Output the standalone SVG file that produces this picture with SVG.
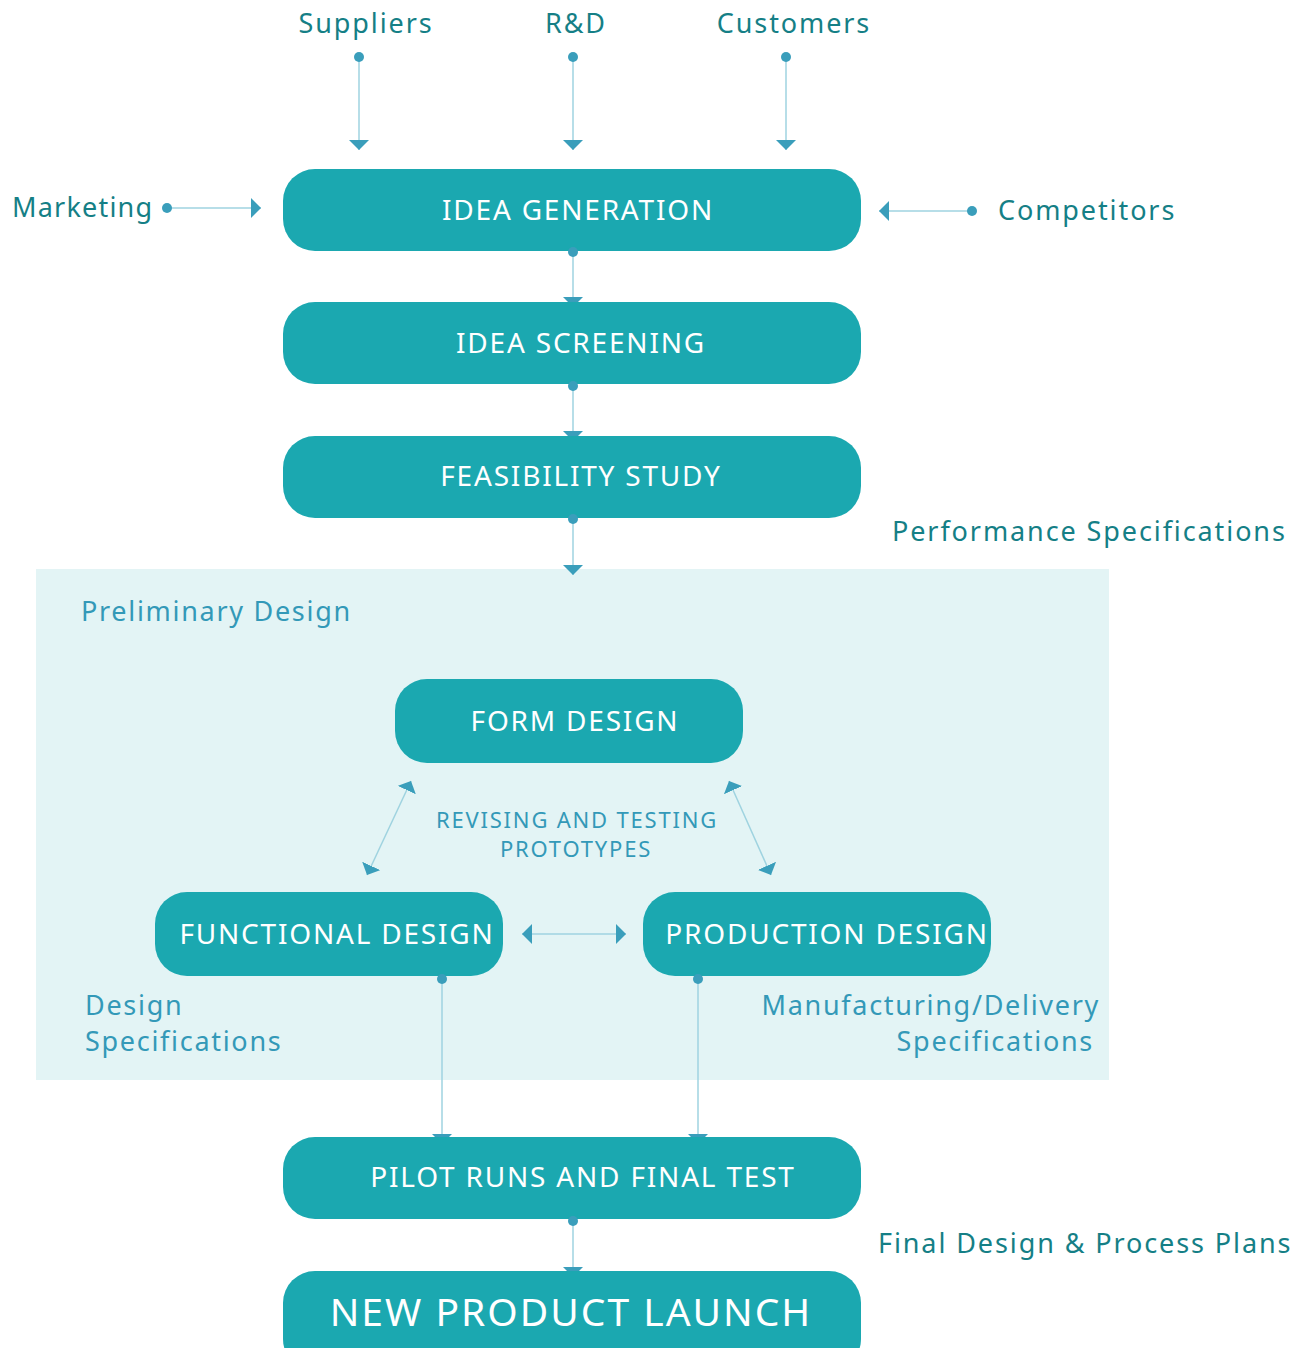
<svg xmlns="http://www.w3.org/2000/svg" width="1310" height="1348" viewBox="0 0 1310 1348">
<style>
.node{fill:#1ba8b0}
.nt{fill:#ffffff;font-family:"Noto Sans",sans-serif;font-size:28px;letter-spacing:1.8px;text-anchor:middle}
.lab{fill:#157f86;font-family:"Noto Sans",sans-serif;font-size:27px;letter-spacing:1.9px}
.lab2{fill:#3399b8;font-family:"Noto Sans",sans-serif;font-size:27px;letter-spacing:1.7px}
.rev{fill:#3399b8;font-family:"Noto Sans",sans-serif;font-size:22px;letter-spacing:1.8px;text-anchor:middle}
.ln{stroke:#9fd3e0;stroke-width:1.5;fill:none}
.dot{fill:#3a9ebb}
.ah{fill:#3a9ebb}
</style>
<defs>
<marker id="arr" viewBox="0 0 10 20" refX="10" refY="10" markerWidth="10" markerHeight="20" markerUnits="userSpaceOnUse" orient="auto-start-reverse">
<path d="M0,0 L10,10 L0,20 Z" class="ah"/>
</marker>
</defs>
<rect x="36" y="569" width="1073" height="511" fill="#e3f4f5"/>
<g id="labels">
<text class="lab" x="366" y="33" text-anchor="middle">Suppliers</text>
<text class="lab" x="576" y="33" text-anchor="middle">R&amp;D</text>
<text class="lab" x="794" y="33" text-anchor="middle">Customers</text>
<text class="lab" x="12" y="217" style="letter-spacing:1.2px">Marketing</text>
<text class="lab" x="998" y="220">Competitors</text>
<text class="lab" x="892" y="541">Performance Specifications</text>
<text class="lab2" x="81" y="621">Preliminary Design</text>
<text class="lab2" x="85" y="1015">Design</text>
<text class="lab2" x="85" y="1051">Specifications</text>
<text class="lab2" x="1100" y="1015" text-anchor="end">Manufacturing/Delivery</text>
<text class="lab2" x="1094" y="1051" text-anchor="end">Specifications</text>
<text class="lab" x="878" y="1253">Final Design &amp; Process Plans</text>
<text class="rev" x="577" y="828">REVISING AND TESTING</text>
<text class="rev" x="576" y="857">PROTOTYPES</text>
</g>
<g id="connectors">
<line class="ln" x1="359" y1="57" x2="359" y2="150" marker-end="url(#arr)"/>
<line class="ln" x1="573" y1="57" x2="573" y2="150" marker-end="url(#arr)"/>
<line class="ln" x1="786" y1="57" x2="786" y2="150" marker-end="url(#arr)"/>
<line class="ln" x1="167" y1="208" x2="261" y2="208" marker-end="url(#arr)"/>
<line class="ln" x1="972" y1="211" x2="879" y2="211" marker-end="url(#arr)"/>
<line class="ln" x1="573" y1="252" x2="573" y2="307" marker-end="url(#arr)"/>
<line class="ln" x1="573" y1="386" x2="573" y2="441" marker-end="url(#arr)"/>
<line class="ln" x1="573" y1="519" x2="573" y2="575" marker-end="url(#arr)"/>
<line class="ln" x1="411" y1="781" x2="367" y2="875" marker-start="url(#arr)" marker-end="url(#arr)"/>
<line class="ln" x1="729" y1="781" x2="771" y2="875" marker-start="url(#arr)" marker-end="url(#arr)"/>
<line class="ln" x1="522" y1="934" x2="626" y2="934" marker-start="url(#arr)" marker-end="url(#arr)"/>
<line class="ln" x1="442" y1="979" x2="442" y2="1144" marker-end="url(#arr)"/>
<line class="ln" x1="698" y1="979" x2="698" y2="1144" marker-end="url(#arr)"/>
<line class="ln" x1="573" y1="1221" x2="573" y2="1277" marker-end="url(#arr)"/>
<circle class="dot" cx="359" cy="57" r="5"/>
<circle class="dot" cx="573" cy="57" r="5"/>
<circle class="dot" cx="786" cy="57" r="5"/>
<circle class="dot" cx="167" cy="208" r="5"/>
<circle class="dot" cx="972" cy="211" r="5"/>
</g>
<g id="idea-generation"><rect class="node" x="283" y="169" width="578" height="82" rx="32"/><text class="nt" x="578" y="220">IDEA GENERATION</text></g>
<g id="idea-screening"><rect class="node" x="283" y="302" width="578" height="82" rx="32"/><text class="nt" x="581" y="353">IDEA SCREENING</text></g>
<g id="feasibility-study"><rect class="node" x="283" y="436" width="578" height="82" rx="32"/><text class="nt" x="581" y="486">FEASIBILITY STUDY</text></g>
<g id="form-design"><rect class="node" x="395" y="679" width="348" height="84" rx="32"/><text class="nt" x="575" y="731">FORM DESIGN</text></g>
<g id="functional-design"><rect class="node" x="155" y="892" width="348" height="84" rx="32"/><text class="nt" x="337" y="944">FUNCTIONAL DESIGN</text></g>
<g id="production-design"><rect class="node" x="643" y="892" width="348" height="84" rx="32"/><text class="nt" x="827" y="944">PRODUCTION DESIGN</text></g>
<g id="pilot-runs"><rect class="node" x="283" y="1137" width="578" height="82" rx="32"/><text class="nt" x="583" y="1187">PILOT RUNS AND FINAL TEST</text></g>
<g id="new-product-launch"><rect class="node" x="283" y="1271" width="578" height="100" rx="32"/><text class="nt" x="571" y="1326" style="font-size:39px;letter-spacing:2px">NEW PRODUCT LAUNCH</text></g>
<g id="node-dots">
<circle class="dot" cx="573" cy="252" r="5"/>
<circle class="dot" cx="573" cy="386" r="5"/>
<circle class="dot" cx="573" cy="519" r="5"/>
<circle class="dot" cx="442" cy="979" r="5"/>
<circle class="dot" cx="698" cy="979" r="5"/>
<circle class="dot" cx="573" cy="1221" r="5"/>
</g>
</svg>
